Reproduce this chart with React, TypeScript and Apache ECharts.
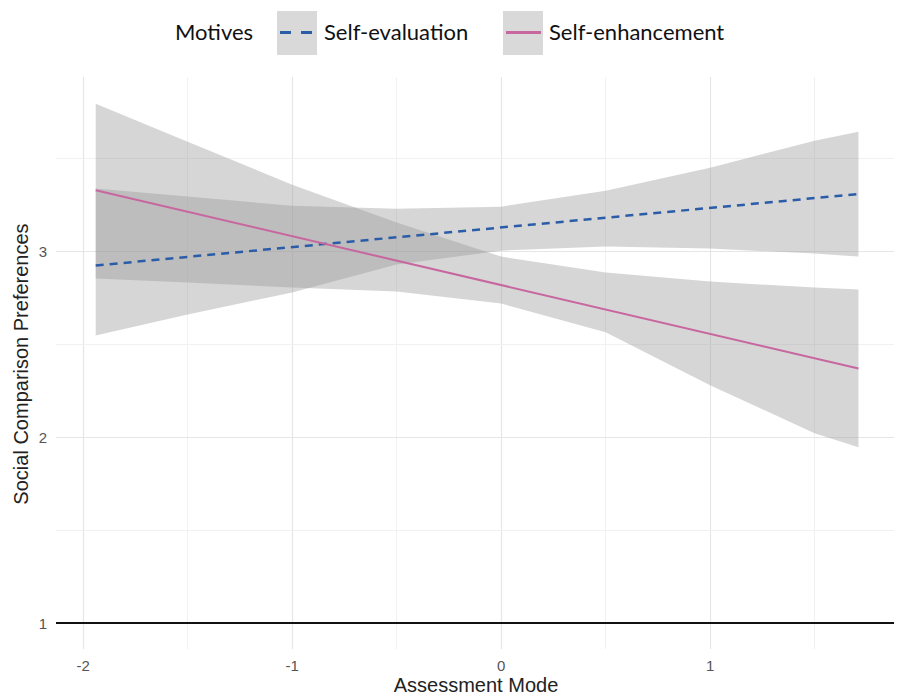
import React, { useEffect, useRef } from "react";
import * as echarts from "echarts";

// Assessment Mode sample positions for the confidence bands
const bandX = [-1.94, -1.5, -1.0, -0.5, 0, 0.5, 1.0, 1.5, 1.71];
// Self-evaluation confidence band
const evalUpper = [3.339, 3.296, 3.247, 3.231, 3.242, 3.328, 3.452, 3.597, 3.645];
const evalLower = [2.548, 2.661, 2.78, 2.93, 3.005, 3.027, 3.016, 2.989, 2.973];
// Self-enhancement confidence band
const enhUpper = [3.796, 3.591, 3.36, 3.156, 2.973, 2.887, 2.839, 2.806, 2.796];
const enhLower = [2.855, 2.833, 2.806, 2.785, 2.72, 2.565, 2.28, 2.022, 1.946];
// Fitted lines (endpoints)
const lineX = [-1.94, 1.71];
const evalLine = [2.925, 3.31];
const enhLine = [3.33, 2.37];
// Axis ticks and grid
const xTicks = [-2, -1, 0, 1];
const xMinor = [-1.5, -0.5, 0.5, 1.5];
const yTicks = [1, 2, 3];
const yMajor = [2, 3];
const yMinor = [1.5, 2.5, 3.5];

const FONT = "'Liberation Sans', Arial, sans-serif";
const LEGEND_FONT = "Lato, 'Open Sans', sans-serif";
const BAND = "rgba(153,153,153,0.4)";
const BLUE = "#2b5ca8";
const PINK = "#c8669f";

export default function App() {
  const ref = useRef<HTMLDivElement>(null);
  useEffect(() => {
    if (!ref.current) return;
    document.body.style.margin = "0";
    const chart = echarts.init(ref.current, null, { renderer: "svg" });

    const pairs = (xs: number[], ys: number[]) => xs.map((x, i) => [x, ys[i]]);

    const gridLines = [
      ...xTicks.map((v) => ({ xAxis: v, lineStyle: { color: "#e6e6e6", width: 1.2, type: "solid" } })),
      ...xMinor.map((v) => ({ xAxis: v, lineStyle: { color: "#f1f1f1", width: 1, type: "solid" } })),
      ...yMajor.map((v) => ({ yAxis: v, lineStyle: { color: "#e6e6e6", width: 1.2, type: "solid" } })),
      ...yMinor.map((v) => ({ yAxis: v, lineStyle: { color: "#f1f1f1", width: 1, type: "solid" } })),
    ];

    const bandSeries = (name: string, lower: number[], upper: number[]) => ({
      type: "custom",
      name,
      silent: true,
      z: 2,
      data: bandX.map((x, i) => [x, lower[i], upper[i]]),
      encode: { x: 0, y: [1, 2] },
      renderItem: (params: any, api: any) => {
        if (params.dataIndex !== 0) return null;
        const top = bandX.map((x, i) => api.coord([x, upper[i]]));
        const bottom = bandX.map((x, i) => api.coord([x, lower[i]])).reverse();
        return {
          type: "polygon",
          shape: { points: [...top, ...bottom], smooth: 0 },
          style: { fill: BAND },
        };
      },
    });

    chart.setOption({
      animation: false,
      grid: {
        left: 56,
        right: 5,
        top: 77,
        bottom: 46,
        containLabel: false,
        outerBoundsMode: "none",
      },
      xAxis: {
        type: "value",
        min: -2.13,
        max: 1.88,
        axisLine: { show: false },
        axisTick: { show: false },
        splitLine: { show: false },
        axisLabel: {
          customValues: xTicks,
          color: "#555",
          fontSize: 15,
          lineHeight: 14,
          fontFamily: FONT,
          margin: 9,
        },
      },
      yAxis: {
        type: "value",
        min: 0.86,
        max: 3.94,
        axisLine: { show: false },
        axisTick: { show: false },
        splitLine: { show: false },
        axisLabel: {
          customValues: yTicks,
          color: "#555",
          fontSize: 15,
          fontFamily: FONT,
          margin: 9,
        },
      },
      graphic: [
        {
          type: "text",
          x: 476,
          y: 685,
          style: {
            text: "Assessment Mode",
            fill: "#222",
            fontSize: 20,
            lineHeight: 18,
            fontFamily: FONT,
            textAlign: "center",
            textVerticalAlign: "middle",
          },
        },
        {
          type: "text",
          x: 21,
          y: 364,
          rotation: Math.PI / 2,
          style: {
            text: "Social Comparison Preferences",
            fill: "#222",
            fontSize: 20,
            fontFamily: FONT,
            textAlign: "center",
            textVerticalAlign: "middle",
          },
        },
        {
          type: "text",
          left: 175,
          top: 20,
          style: { text: "Motives", fill: "#111", fontSize: 22, fontFamily: LEGEND_FONT },
        },
        { type: "rect", shape: { x: 277, y: 11, width: 40, height: 44 }, style: { fill: "#d9d9d9" } },
        {
          type: "line",
          shape: { x1: 280, y1: 32.5, x2: 314, y2: 32.5 },
          style: { stroke: BLUE, lineWidth: 3, lineDash: [11, 10] },
        },
        {
          type: "text",
          left: 324,
          top: 20,
          style: { text: "Self-evaluation", fill: "#111", fontSize: 22, fontFamily: LEGEND_FONT },
        },
        { type: "rect", shape: { x: 503, y: 11, width: 40, height: 44 }, style: { fill: "#d9d9d9" } },
        {
          type: "line",
          shape: { x1: 506, y1: 32.5, x2: 541, y2: 32.5 },
          style: { stroke: PINK, lineWidth: 3 },
        },
        {
          type: "text",
          left: 549,
          top: 20,
          style: { text: "Self-enhancement", fill: "#111", fontSize: 22, fontFamily: LEGEND_FONT },
        },
      ],
      series: [
        {
          type: "line",
          name: "grid",
          data: [],
          silent: true,
          z: 0,
          markLine: {
            silent: true,
            symbol: ["none", "none"],
            label: { show: false },
            data: gridLines,
            z: 0,
          },
        },
        bandSeries("Self-evaluation band", evalLower, evalUpper),
        bandSeries("Self-enhancement band", enhLower, enhUpper),
        {
          type: "line",
          name: "Self-evaluation",
          data: pairs(lineX, evalLine),
          showSymbol: false,
          symbol: "none",
          lineStyle: { color: BLUE, width: 2.5, type: [8, 6] },
          z: 4,
        },
        {
          type: "line",
          name: "Self-enhancement",
          data: pairs(lineX, enhLine),
          showSymbol: false,
          symbol: "none",
          lineStyle: { color: PINK, width: 2 },
          z: 4,
        },
        {
          type: "line",
          name: "ref",
          data: [],
          silent: true,
          z: 3,
          markLine: {
            silent: true,
            symbol: ["none", "none"],
            label: { show: false },
            data: [{ yAxis: 1, lineStyle: { color: "#111", width: 2, type: "solid" } }],
          },
        },
      ],
    });
    return () => chart.dispose();
  }, []);
  return <div ref={ref} style={{ width: 899, height: 695 }} />;
}
